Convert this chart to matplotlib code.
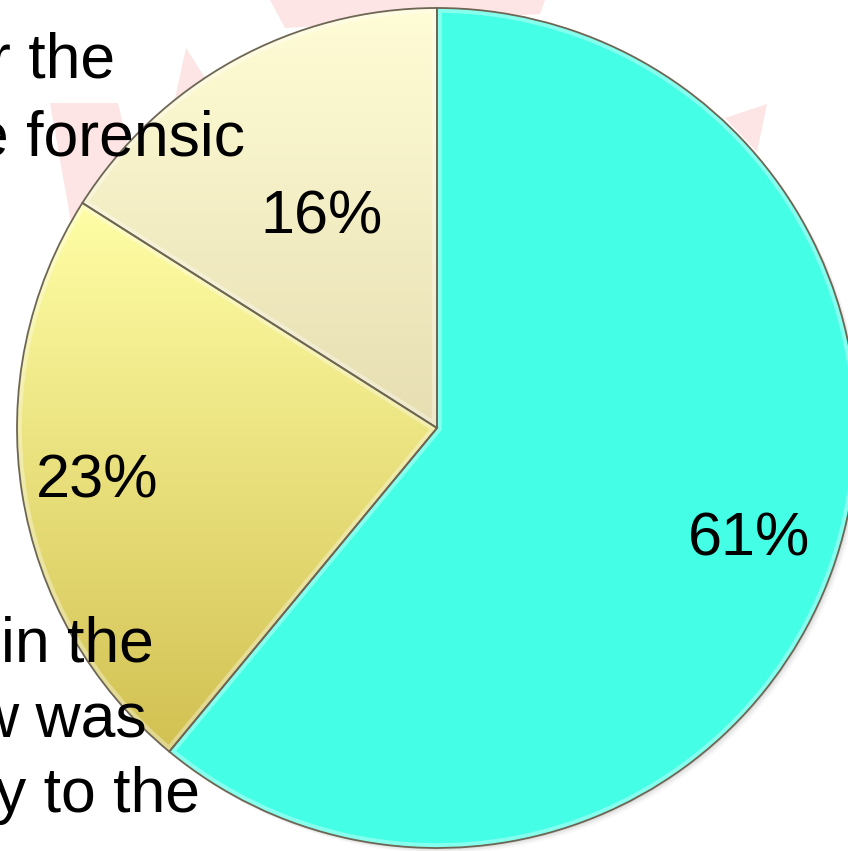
import numpy as np
import matplotlib
matplotlib.use("Agg")
import matplotlib.pyplot as plt
from matplotlib.colors import LinearSegmentedColormap
from matplotlib.patches import Polygon, Circle, PathPatch

plt.rcParams['font.family'] = ['Liberation Sans', 'DejaVu Sans']

# pie shares, counter-clockwise from 12 o'clock
shares = [16, 23, 61]
top_colors = ['#FFFDD6', '#FFFEA6', '#44FFE5']
bottom_colors = ['#E7DEB2', '#D2C152', '#44FFE5']

# slide text lines sitting over the chart (left side of the slide)
upper_lines = ['r the', 'e forensic']
lower_lines = ['in the', 'w was', 'y to the']

W, H = 848, 851
cx, cy, R = 437, 428, 420  # pie centre and radius in pixels

fig = plt.figure(figsize=(W / 100, H / 100), dpi=100)
ax = fig.add_axes([0, 0, 1, 1])


def px(x, y):
    return ((x - cx) / R, (cy - y) / R)


# faint pink leaf behind the pie
leaf = '#FDE5E5'
for pts in [
    [(50, 103), (72, 228), (135, 175), (118, 103)],
    [(186, 48), (172, 112), (235, 112), (204, 76)],
    [(270, 0), (545, 0), (540, 14), (285, 28)],
    [(725, 118), (767, 104), (757, 152)],
]:
    ax.add_patch(Polygon([px(*p) for p in pts], closed=True, fc=leaf, ec='none', zorder=0))

# soft drop shadow
for k, a in enumerate([0.10, 0.07, 0.04]):
    off = (k + 1) * 0.004
    ax.add_patch(Circle((off, -off), 1.0, fc='#555555', ec='none', alpha=a, zorder=1))

wedges, _, pcts = ax.pie(
    shares, startangle=90, counterclock=True, radius=1, center=(0, 0),
    colors=top_colors, autopct=lambda p: f'{p:.0f}%', pctdistance=0.7,
    textprops=dict(fontsize=44, color='black'),
    wedgeprops=dict(edgecolor='none'), frame=True)
ax.axis('off')
ax.set_aspect('equal')
ax.set_xlim(-cx / R, (W - cx) / R)
ax.set_ylim(-(H - cy) / R, cy / R)

label_r = [0.57, 0.82, 0.79]
for w, t, c0, c1, lr in zip(wedges, pcts, top_colors, bottom_colors, label_r):
    w.set_zorder(2)
    th = np.radians(np.linspace(w.theta1, w.theta2, 200))
    ys = np.concatenate([np.sin(th), [0]])
    xs = np.concatenate([np.cos(th), [0]])
    cmap = LinearSegmentedColormap.from_list('g', [c0, c1])
    grad = np.linspace(0, 1, 256).reshape(-1, 1)
    im = ax.imshow(grad, cmap=cmap, extent=[xs.min(), xs.max(), ys.min(), ys.max()],
                   origin='upper', aspect='auto', zorder=3)
    im.set_clip_path(w)
    # bevel: light inner rim, then dark outline
    hi = PathPatch(w.get_path(), transform=w.get_transform(),
                   fc='none', ec='white', lw=7, alpha=0.35, zorder=4)
    ax.add_patch(hi)
    hi.set_clip_path(w)
    ax.add_patch(PathPatch(w.get_path(), transform=w.get_transform(),
                           fc='none', ec='#6E6654', lw=1.3, zorder=5))
    x, y = t.get_position()
    t.set_position((x * lr / 0.7, y * lr / 0.7))
    t.set_zorder(6)

# slide text on top
fs = 45
upper_right = [115, 245]
for i, s in enumerate(upper_lines):
    fig.text(upper_right[i] / W, 1 - (78 + 77 * i) / H, s,
             ha='right', va='baseline', fontsize=fs, color='black', zorder=10)
lower_right = [154, 147, 200]
for i, s in enumerate(lower_lines):
    fig.text(lower_right[i] / W, 1 - (662 + 75 * i) / H, s,
             ha='right', va='baseline', fontsize=fs, color='black', zorder=10)

fig.savefig('out.png', dpi=100, facecolor='white')
